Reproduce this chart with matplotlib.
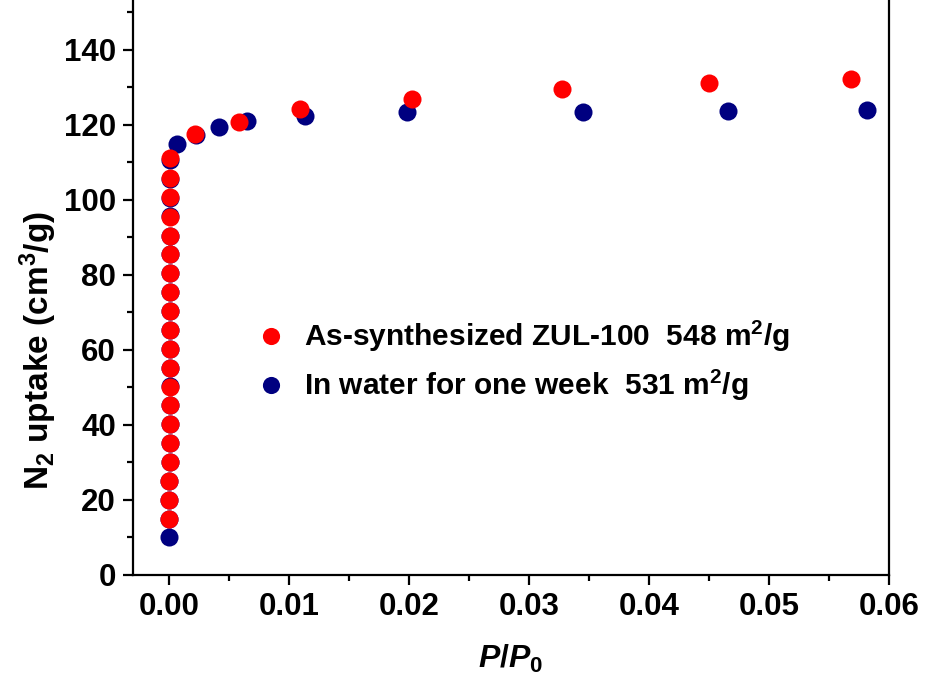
import matplotlib.pyplot as plt
from matplotlib.ticker import MultipleLocator

plt.rcParams['font.family'] = ['Liberation Sans', 'DejaVu Sans']
plt.rcParams['font.weight'] = 'bold'
plt.rcParams['axes.labelweight'] = 'bold'
plt.rcParams['mathtext.fontset'] = 'custom'
plt.rcParams['mathtext.rm'] = 'Liberation Sans:bold'
plt.rcParams['mathtext.bf'] = 'Liberation Sans:bold'
plt.rcParams['mathtext.it'] = 'Liberation Sans:italic:bold'

# As-synthesized ZUL-100
red_x = [0.00001, 0.00001, 0.00001, 0.00002, 0.00002, 0.00002, 0.00002,
         0.00003, 0.00003, 0.00003, 0.00003, 0.00004, 0.00004, 0.00004,
         0.00005, 0.00005, 0.00005, 0.00006, 0.00007, 0.00008,
         0.0021, 0.0058, 0.0109, 0.0202, 0.0327, 0.0450, 0.0568]
red_y = [15.0, 20.0, 25.1, 30.1, 35.2, 40.2, 45.3, 50.2, 55.3, 60.3,
         65.3, 70.4, 75.4, 80.4, 85.5, 90.5, 95.5, 100.7, 105.8, 111.1,
         117.6, 120.8, 124.3, 127.0, 129.6, 131.2, 132.3]

# In water for one week
blue_x = [0.0, 0.00001, 0.00001, 0.00001, 0.00002, 0.00002, 0.00002,
          0.00002, 0.00003, 0.00003, 0.00003, 0.00003, 0.00004, 0.00004,
          0.00004, 0.00005, 0.00005, 0.00005, 0.00006, 0.00007, 0.00008,
          0.0006, 0.0022, 0.0041, 0.0065, 0.0113, 0.0198, 0.0345, 0.0466, 0.0582]
blue_y = [10.0, 15.0, 20.0, 25.1, 30.1, 35.2, 40.2, 45.2, 50.3, 55.3,
          60.3, 65.3, 70.4, 75.4, 80.4, 85.5, 90.5, 95.6, 100.6, 105.7, 110.6,
          114.9, 117.3, 119.5, 121.0, 122.4, 123.5, 123.5, 123.7, 124.0]

labels = ["As-synthesized ZUL-100  548 m$^2$/g",
          "In water for one week  531 m$^2$/g"]

fig = plt.figure(figsize=(9.25, 6.82), dpi=100)
ax = fig.add_axes([0.1435, 0.1569, 0.8176, 0.8431])

ax.plot(blue_x, blue_y, 'o', color='#000080', ms=13, mec='none', zorder=2, label=labels[1])
ax.plot(red_x, red_y, 'o', color='#ff0000', ms=13, mec='none', zorder=3, label=labels[0])

ax.set_xlim(-0.00305, 0.06)
ax.set_ylim(0, 153.3)
ax.xaxis.set_major_locator(MultipleLocator(0.01))
ax.xaxis.set_minor_locator(MultipleLocator(0.005))
ax.yaxis.set_major_locator(MultipleLocator(20))
ax.yaxis.set_minor_locator(MultipleLocator(10))
ax.set_yticks(range(0, 141, 20))
ax.xaxis.set_major_formatter(plt.FuncFormatter(lambda v, p: f"{v:.2f}"))

ax.spines['top'].set_visible(False)
for s in ['left', 'bottom', 'right']:
    ax.spines[s].set_linewidth(1.6)
ax.tick_params(which='major', direction='out', length=7, width=1.6, labelsize=22.5, pad=5)
ax.tick_params(which='minor', direction='out', length=4, width=1.6)
ax.tick_params(top=False, right=False, which='both')

ax.set_xlabel(r"$\mathit{P/P}_{0}$", fontsize=23)
ax.xaxis.set_label_coords(0.499, -0.118)
ax.set_ylabel("N$_2$ uptake (cm$^3$/g)", fontsize=24)
ax.yaxis.set_label_coords(-0.098, 0.39)

handles, labs = ax.get_legend_handles_labels()
ax.legend(handles[::-1], labs[::-1], loc='center left', bbox_to_anchor=(0.135, 0.372),
          frameon=False, fontsize=21.5, markerscale=0.95, handlelength=0.6,
          handletextpad=0.8, labelspacing=0.45)

fig.savefig("out.png", dpi=100)
